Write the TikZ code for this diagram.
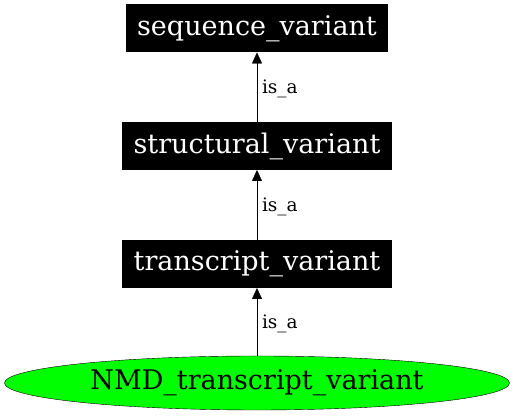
\documentclass[tikz,border=0pt]{standalone}
\usepackage{fontspec}
\setmainfont{DejaVu Serif}
\usetikzlibrary{arrows.meta,shapes.geometric}

\begin{document}
\begin{tikzpicture}[x=1pt,y=1pt,
  every node/.style={inner sep=0pt,outer sep=0pt},
  term/.style={fill=black,text=white,minimum height=48pt,font=\fontsize{27}{32}\selectfont},
  leaf/.style={ellipse,draw,fill=green,minimum width=505pt,minimum height=54pt,font=\fontsize{27}{32}\selectfont},
  isa/.style={draw,-{Triangle[length=11pt,width=10pt]}},
  lbl/.style={font=\fontsize{18.5}{22}\selectfont,right=5pt}]
  \useasboundingbox (0,0) rectangle (515,419);
  \node[term,minimum width=262pt] (seq) at (257,390.5) {sequence\_variant};
  \node[term,minimum width=270pt] (struct) at (257,273) {structural\_variant};
  \node[term,minimum width=270pt] (trans) at (257,155) {transcript\_variant};
  \node[leaf] (nmd) at (257,36) {NMD\_transcript\_variant};
  % is_a edges
  \draw[isa] (struct) -- node[lbl,yshift=-2pt] {is\_a} (seq);
  \draw[isa] (trans) -- node[lbl,yshift=-2pt] {is\_a} (struct);
  \draw[isa] (nmd) -- node[lbl,yshift=-2pt] {is\_a} (trans);
\end{tikzpicture}
\end{document}
